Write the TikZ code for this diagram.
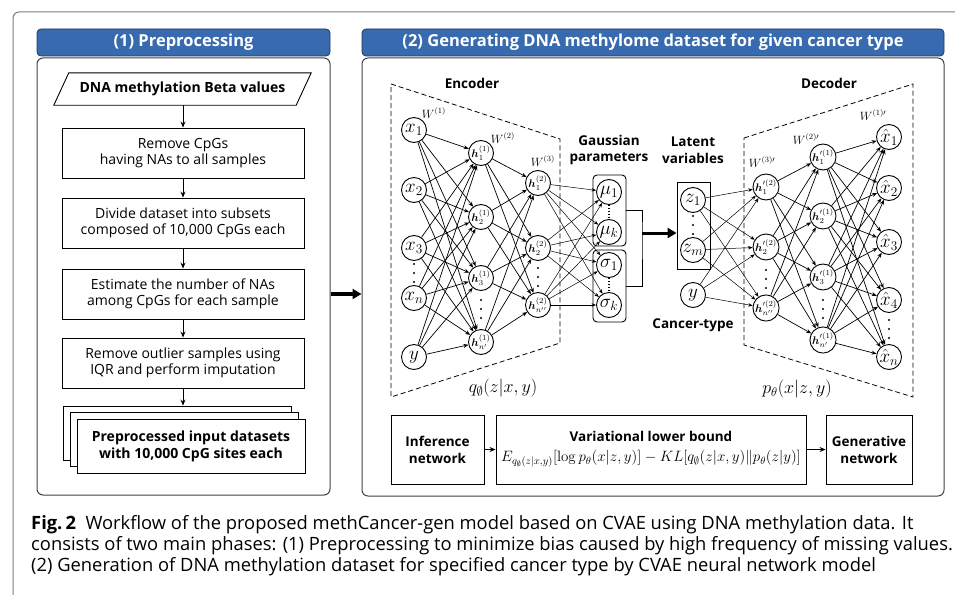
\RequirePackage{fix-cm}
\documentclass[tikz,border=0pt]{standalone}
\usepackage{amsmath,bm}
\usepackage[no-math]{fontspec}
\setmainfont{Open Sans}
\newfontfamily\capfont{Open Sans}
\usetikzlibrary{arrows.meta,calc}
\definecolor{hdrblue}{RGB}{55,106,174}
\definecolor{hdredge}{RGB}{35,55,95}
\definecolor{framegray}{RGB}{125,125,125}
\begin{document}
\begin{tikzpicture}[x=1pt,y=-1pt,
  hdr/.style={draw=hdredge, line width=0.8, fill=hdrblue, rounded corners=4, text=white, font=\bfseries\fontsize{16.5}{16.5}\selectfont, inner sep=0},
  panel/.style={draw=black!75, line width=1, rounded corners=6, inner sep=0},
  stepbox/.style={draw, line width=0.9, minimum width=242, minimum height=50, align=center, font=\fontsize{14}{16.5}\selectfont, inner sep=0},
  sheet/.style={draw, fill=white, line width=0.9, minimum width=228, minimum height=54, inner sep=0},
  arr/.style={-{Stealth[length=6pt,width=5pt]}, line width=0.9},
  bigarr/.style={-{Triangle[length=9pt,width=10pt]}, line width=3.5},
  neuron/.style={circle, draw, line width=0.9, minimum size=25, inner sep=0},
  xlab/.style={font=\fontsize{19}{19}\selectfont},
  hlab/.style={font=\fontsize{11}{11}\selectfont},
  conn/.style={-{Stealth[length=5pt,width=4pt]}, line width=0.7},
  thinconn/.style={-{Stealth[length=4.5pt,width=3.5pt]}, line width=0.5},
  lbl/.style={font=\bfseries\fontsize{13.5}{16.5}\selectfont, align=center, inner sep=0},
  wl/.style={font=\fontsize{12}{12}\selectfont, inner sep=0},
  dashbox/.style={dash pattern=on 5pt off 3pt, line width=0.8},
  gbox/.style={draw, line width=0.9, rounded corners=4, minimum width=33, inner sep=0},
  bbox/.style={draw, line width=0.9, minimum height=69, inner sep=0, align=center},
  capline/.style={anchor=base west, inner sep=0, font=\capfont\fontsize{18.35}{21}\selectfont}
]
\useasboundingbox (0,0) rectangle (955,594);
% outer frame
\draw[framegray, line width=1, rounded corners=6] (13,600) -- (13,12) -- (962,12);

% ===== left panel =====
\node[hdr, minimum width=293, minimum height=27] (lh) at (183.5,42.5) {(1) Preprocessing};
\node[panel, minimum width=293, minimum height=437] (lb) at (183.5,276.5) {};
\node[minimum width=242, minimum height=32, inner sep=0, font=\bfseries\fontsize{14}{16}\selectfont] (p0) at (182.5,89) {DNA methylation Beta values};
\draw[line width=0.9] ([xshift=7.5]p0.north west) -- ([xshift=7.5]p0.north east) -- ([xshift=-7.5]p0.south east) -- ([xshift=-7.5]p0.south west) -- cycle;
\node[stepbox] (b1) at (183,153) {Remove CpGs\\having NAs to all samples};
\node[stepbox] (b2) at (183,223) {Divide dataset into subsets\\composed of 10,000 CpGs each};
\node[stepbox] (b3) at (183,294) {Estimate the number of NAs\\among CpGs for each sample};
\node[stepbox] (b4) at (183,363) {Remove outlier samples using\\IQR and perform imputation};
\node[sheet] (s1) at (177,433) {};
\node[sheet] (s2) at (184,439.5) {};
\node[sheet, align=center, font=\bfseries\fontsize{14}{17}\selectfont] (s3) at (191,446) {Preprocessed input datasets\\with 10,000 CpG sites each};
\draw[arr] (p0.south -| b1.north) -- (b1.north);
\draw[arr] (b1) -- (b2);
\draw[arr] (b2) -- (b3);
\draw[arr] (b3) -- (b4);
\draw[arr] (b4.south) -- (b4.south |- s1.north);

% ===== right panel =====
\node[hdr, minimum width=582, minimum height=27] (rh) at (653,42.5) {(2) Generating DNA methylome dataset for given cancer type};
\node[panel, minimum width=582, minimum height=438] (rb) at (653,277) {};
\draw[bigarr] (lb.east |- b3) -- (rb.west |- b3);

% encoder / decoder outlines
\draw[dashbox] (391,84) -- (560,139) -- (560,343) -- (391,397) -- cycle;
\draw[dashbox] (744,138) -- (913,84) -- (913,397) -- (744,345) -- cycle;
\node[lbl] (enc) at (472,83) {Encoder};
\node[lbl] (dec) at (829,83) {Decoder};

% encoder nodes
\node[neuron, xlab] (ex1) at (414,130) {$x_1$};
\node[neuron, xlab] (ex2) at (414,190) {$x_2$};
\node[neuron, xlab] (ex3) at (414,248) {$x_3$};
\node[neuron, xlab] (exn) at (414,298) {$x_n$};
\node[neuron, xlab] (ey) at (414,357) {$y$};
\node[neuron, hlab] (eh1a) at (481,153) {$\bm{h}^{(1)}_{1}$};
\node[neuron, hlab] (eh1b) at (481,217) {$\bm{h}^{(1)}_{2}$};
\node[neuron, hlab] (eh1c) at (481,278) {$\bm{h}^{(1)}_{3}$};
\node[neuron, hlab] (eh1n) at (481,342) {$\bm{h}^{(1)}_{n'}$};
\node[neuron, hlab] (eh2a) at (538,183) {$\bm{h}^{(2)}_{1}$};
\node[neuron, hlab] (eh2b) at (538,248) {$\bm{h}^{(2)}_{2}$};
\node[neuron, hlab] (eh2n) at (538,305) {$\bm{h}^{(2)}_{n''}$};
\node[wl] (w1) at (434,113) {$W^{(1)}$};
\node[wl] (w2) at (503,138) {$W^{(2)}$};
\node[wl] (w3) at (543,161) {$W^{(3)}$};
\node[font=\fontsize{18}{18}\selectfont, inner sep=0] (qlab) at (503,388) {$q_{\emptyset}(z|x,y)$};

% gaussian parameters
\node[lbl] (gp) at (609,150) {Gaussian\\parameters};
\node[gbox, minimum height=71] (mubox) at (609.5,210.5) {};
\node[gbox, minimum height=72] (sgbox) at (609.5,286) {};
\node[neuron, xlab] (mu1) at (609,192) {$\mu_1$};
\node[neuron, xlab] (muk) at (609,232) {$\mu_k$};
\node[neuron, xlab] (sg1) at (609,265) {$\sigma_1$};
\node[neuron, xlab] (sgk) at (609,305) {$\sigma_k$};
\draw[dotted, line width=1.1] (mu1.south) -- (muk.north);
\draw[dotted, line width=1.1] (sg1.south) -- (sgk.north);
\coordinate (brk) at (642,233);
\draw[line width=0.9] (mubox.east) -| (brk) |- (sgbox.east);

% latent variables
\node[lbl] (lv) at (693,150) {Latent\\variables};
\node[draw, line width=0.9, minimum width=33, minimum height=87, inner sep=0] (zbox) at (693.5,225.5) {};
\node[neuron, xlab] (z1) at (693,200) {$z_1$};
\node[neuron, xlab] (zm) at (693,250) {$z_m$};
\node[neuron, xlab] (zy) at (693,295) {$y$};
\node[lbl] (ct) at (693,325) {Cancer-type};
\draw[bigarr, line width=3] (brk) -- (zbox.west |- brk);

% decoder nodes
\node[neuron, hlab] (dh2a) at (766,187) {$\bm{h}^{\prime(2)}_{1}$};
\node[neuron, hlab] (dh2b) at (766,247) {$\bm{h}^{\prime(2)}_{2}$};
\node[neuron, hlab] (dh2n) at (766,308) {$\bm{h}^{\prime(2)}_{n''}$};
\node[neuron, hlab] (dh1a) at (823,157) {$\bm{h}^{\prime(1)}_{1}$};
\node[neuron, hlab] (dh1b) at (823,216) {$\bm{h}^{\prime(1)}_{2}$};
\node[neuron, hlab] (dh1c) at (823,277) {$\bm{h}^{\prime(1)}_{3}$};
\node[neuron, hlab] (dh1n) at (823,340) {$\bm{h}^{\prime(1)}_{n'}$};
\node[neuron, xlab] (ox1) at (889,137) {$\hat{x}_1$};
\node[neuron, xlab] (ox2) at (889,188) {$\hat{x}_2$};
\node[neuron, xlab] (ox3) at (889,242) {$\hat{x}_3$};
\node[neuron, xlab] (ox4) at (889,300) {$\hat{x}_4$};
\node[neuron, xlab] (oxn) at (889,357) {$\hat{x}_n$};
\node[wl] (w3p) at (762,162) {$W^{(3)\prime}$};
\node[wl] (w2p) at (806,139) {$W^{(2)\prime}$};
\node[wl] (w1p) at (873,115) {$W^{(1)\prime}$};
\node[font=\fontsize{18}{18}\selectfont, inner sep=0] (plab) at (797,389) {$p_{\theta}(x|z,y)$};

% vertical dots
\foreach \px/\py in {414/273, 481/309, 538/277, 693/225, 766/279, 823/309, 889/329}
  \foreach \dy in {-9,0,9}
    \fill ($(\px,\py)+(0,\dy)$) circle (1.1);

% connections
\foreach \a in {ex1,ex2,ex3,exn,ey}
  \foreach \b in {eh1a,eh1b,eh1c,eh1n}
    \draw[conn] (\a) -- (\b);
\foreach \a in {eh1a,eh1b,eh1c,eh1n}
  \foreach \b in {eh2a,eh2b,eh2n}
    \draw[conn] (\a) -- (\b);
\foreach \a in {eh2a,eh2b,eh2n}
  \foreach \b in {mu1,muk,sg1,sgk}
    \draw[thinconn] (\a) -- (\b);
\foreach \a in {z1,zm,zy}
  \foreach \b in {dh2a,dh2b,dh2n}
    \draw[thinconn] (\a) -- (\b);
\foreach \a in {dh2a,dh2b,dh2n}
  \foreach \b in {dh1a,dh1b,dh1c,dh1n}
    \draw[conn] (\a) -- (\b);
\foreach \a in {dh1a,dh1b,dh1c,dh1n}
  \foreach \b in {ox1,ox2,ox3,ox4,oxn}
    \draw[conn] (\a) -- (\b);

% bottom row
\node[bbox, minimum width=93, font=\bfseries\fontsize{13.5}{17}\selectfont] (inf) at (437.5,449.5) {Inference\\network};
\node[bbox, minimum width=310] (vlbbox) at (651,449.5) {};
\node[bbox, minimum width=86, font=\bfseries\fontsize{13.5}{17}\selectfont] (gen) at (869,449.5) {Generative\\network};
\node[lbl] (vlb) at (651,436) {Variational lower bound};
\node[inner sep=0, font=\fontsize{15}{15}\selectfont] (elbo) at (651,459) {$E_{q_{\emptyset}(z|x,y)}[\log p_{\theta}(x|z,y)]-KL[q_{\emptyset}(z|x,y)\|p_{\theta}(z|y)]$};
\draw[arr] (inf) -- (vlbbox);
\draw[arr] (vlbbox) -- (gen);

% caption
\node[capline] (cap1) at (31,529) {\textbf{Fig.\,2}\ \ Workflow of the proposed methCancer-gen model based on CVAE using DNA methylation data. It};
\node[capline] (cap2) at (31,550) {consists of two main phases: (1) Preprocessing to minimize bias caused by high frequency of missing values.};
\node[capline] (cap3) at (31,571) {(2) Generation of DNA methylation dataset for specified cancer type by CVAE neural network model};
\end{tikzpicture}
\end{document}
